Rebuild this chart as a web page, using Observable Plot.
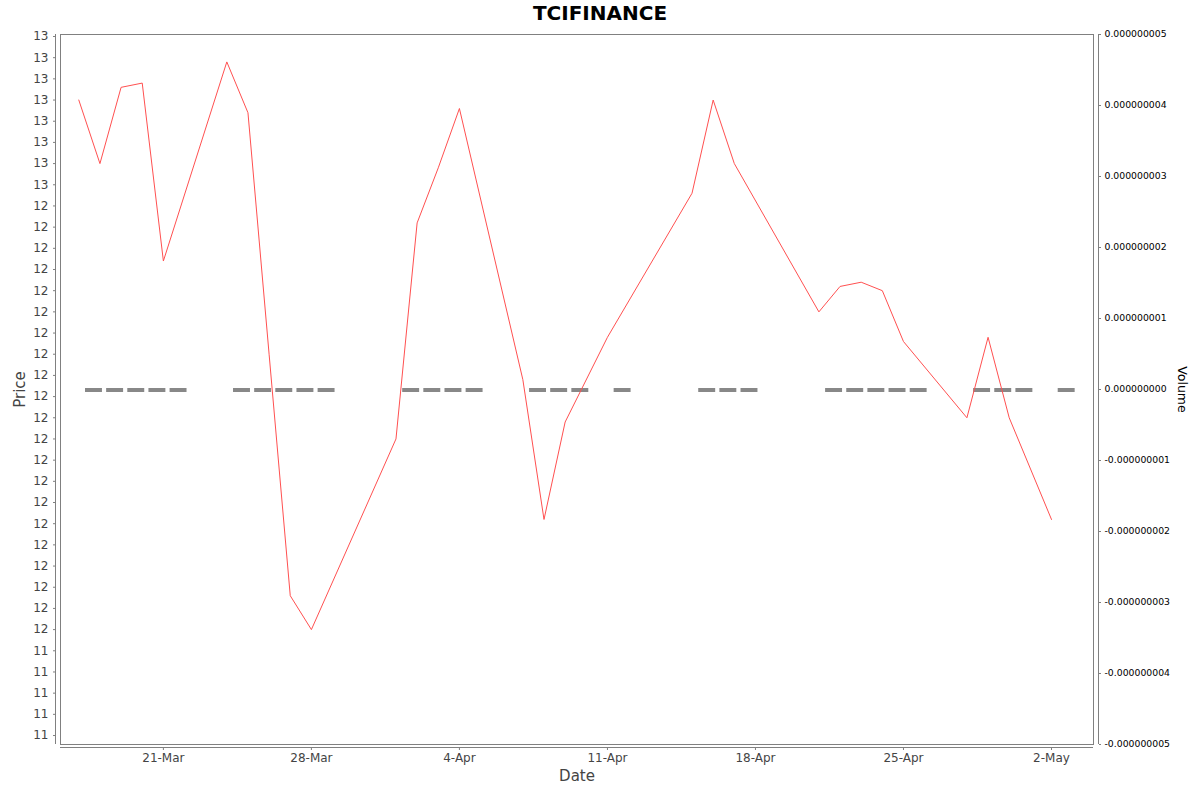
<!DOCTYPE html>
<html><head><meta charset="utf-8">
<script src="https://cdn.jsdelivr.net/npm/d3@7"></script>
<script src="https://cdn.jsdelivr.net/npm/@observablehq/plot@0.6"></script>
<style>
body{margin:0;background:#fff;font-family:"DejaVu Sans",sans-serif;}
#title{height:26px;line-height:26px;text-align:center;font-weight:bold;font-size:20px;color:#000;}
</style></head><body>
<div id="title">TCIFINANCE</div>
<div id="chart"></div>
<script>
const dates = ["2025-03-17","2025-03-18","2025-03-19","2025-03-20","2025-03-21",
  "2025-03-24","2025-03-25","2025-03-26","2025-03-27","2025-03-28",
  "2025-04-01","2025-04-02","2025-04-03","2025-04-04",
  "2025-04-07","2025-04-08","2025-04-09","2025-04-11",
  "2025-04-15","2025-04-16","2025-04-17",
  "2025-04-21","2025-04-22","2025-04-23","2025-04-24","2025-04-25",
  "2025-04-28","2025-04-29","2025-04-30","2025-05-02"];
const prices = [12.75,12.60,12.78,12.79,12.37,
  12.84,12.72,12.15,11.58,11.50,
  11.95,12.46,12.59,12.73,
  12.09,11.76,11.99,12.19,
  12.53,12.75,12.60,
  12.25,12.31,12.32,12.30,12.18,
  12.00,12.19,12.00,11.76];
const volumes = [0,0,0,0,0, 0,0,0,0,0, 0,0,0,0, 0,0,0,0, 0,0,0, 0,0,0,0,0, 0,0,0,0];
const priceTicks = [11.25,11.30,11.35,11.40,11.45,11.50,11.55,11.60,11.65,11.70,11.75,11.80,
  11.85,11.90,11.95,12.00,12.05,12.10,12.15,12.20,12.25,12.30,12.35,12.40,12.45,12.50,
  12.55,12.60,12.65,12.70,12.75,12.80,12.85,12.90];
const priceTickLabels = ["11","11","11","11","11",
  "12","12","12","12","12","12","12","12","12","12","12","12","12","12","12","12","12","12","12","12","12",
  "13","13","13","13","13","13","13","13"];
const volumeTicks = [-5e-9,-4e-9,-3e-9,-2e-9,-1e-9,0,1e-9,2e-9,3e-9,4e-9,5e-9];
const dateTicks = ["2025-03-21","2025-03-28","2025-04-04","2025-04-11","2025-04-18","2025-04-25","2025-05-02"];

const parse = d3.utcParse("%Y-%m-%d");
const rows = dates.map((d, i) => ({date: parse(d), price: prices[i], volume: volumes[i]}));
const priceDomain = [11.2288, 12.9047];
const xDomain = [new Date("2025-03-16T03:14:00Z"), new Date("2025-05-03T23:40:00Z")];
const vToP = d3.scaleLinear().domain([-5e-9, 5e-9]).range(priceDomain);
const fmtDate = d3.utcFormat("%-d-%b");
const priceLabel = new Map(priceTicks.map((t, i) => [t, priceTickLabels[i]]));
const volPos = volumeTicks.map(v => vToP(v));
const volLabel = new Map(volumeTicks.map((v, i) => [volPos[i], v.toFixed(9)]));

const plot = Plot.plot({
  width: 1200, height: 766,
  marginTop: 8, marginBottom: 48, marginLeft: 60, marginRight: 107,
  style: {fontFamily: '"DejaVu Sans", sans-serif', background: "#fff", overflow: "visible"},
  x: {type: "utc", domain: xDomain, axis: null},
  y: {domain: priceDomain, axis: null},
  marks: [
    Plot.frame({stroke: "#808080"}),
    Plot.rect(rows, {x1: "date", x2: d => d3.utcDay.offset(d.date, 1),
      y1: () => vToP(0), y2: d => vToP(d.volume), fill: "#888888",
      insetLeft: 6.7, insetRight: -2.5, insetTop: -2, insetBottom: -2, dy: 1}),
    Plot.line(rows, {x: "date", y: "price", stroke: "#ff5050", strokeWidth: 1}),
    Plot.ruleX([xDomain[0]], {stroke: "#808080", dx: -5}),
    Plot.axisY(priceTicks, {anchor: "left", label: null, dx: -5, tickSize: 2, tickPadding: 5,
      tickFormat: d => priceLabel.get(d), fontSize: 12, fill: "#444", stroke: "#808080"}),
    Plot.ruleX([xDomain[1]], {stroke: "#808080", dx: 5}),
    Plot.axisY(volPos, {anchor: "right", label: null, dx: 5, tickSize: 2, tickPadding: 4,
      tickFormat: d => volLabel.get(d), fontSize: 9.3, fill: "#000", stroke: "#808080"}),
    Plot.ruleY([priceDomain[0]], {stroke: "#808080", dy: 3}),
    Plot.axisX(dateTicks.map(parse), {anchor: "bottom", label: null, dy: 3, tickSize: 3, tickPadding: 3,
      tickFormat: fmtDate, fontSize: 12, fill: "#444", stroke: "#808080"}),
    Plot.text(["Price"], {text: d => d, frameAnchor: "left", textAnchor: "middle", dx: -40, dy: 0, rotate: -90, fontSize: 15, fill: "#444"}),
    Plot.text(["Date"], {text: d => d, frameAnchor: "bottom", dy: 36, fontSize: 15, fill: "#444"}),
    Plot.text(["Volume"], {text: d => d, frameAnchor: "right", textAnchor: "middle", dx: 88, rotate: 90, fontSize: 12.5, fill: "#000"})
  ]
});
document.getElementById("chart").appendChild(plot);
</script>
</body></html>
